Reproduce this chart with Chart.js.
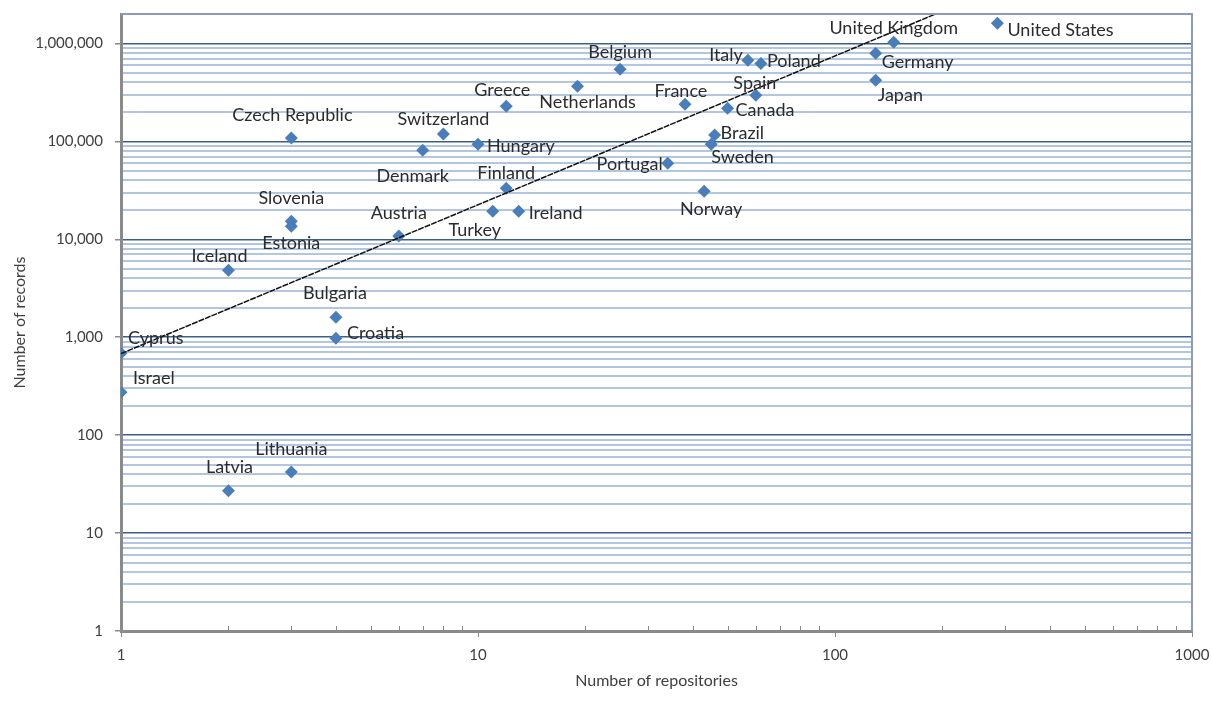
<!DOCTYPE html>
<html>
<head>
<meta charset="utf-8">
<script src="https://cdn.jsdelivr.net/npm/chart.js@4.4.1/dist/chart.umd.min.js"></script>
<style>
  html, body { margin: 0; padding: 0; background: #fff; }
</style>
</head>
<body>
<canvas id="repoChart" width="1212" height="702"></canvas>
<script>
// data
const countries = [
  'United States', 'United Kingdom', 'Germany', 'Japan', 'Italy', 'Poland', 'Spain',
  'Canada', 'France', 'Brazil', 'Sweden', 'Portugal', 'Norway', 'Belgium', 'Netherlands',
  'Greece', 'Switzerland', 'Hungary', 'Denmark', 'Finland', 'Turkey', 'Ireland', 'Austria',
  'Czech Republic', 'Slovenia', 'Estonia', 'Iceland', 'Bulgaria', 'Croatia', 'Cyprus',
  'Israel', 'Lithuania', 'Latvia'
];
const repositories = [
  285, 146, 130, 130, 57, 62, 60,
  50, 38, 46, 45, 34, 43, 25, 19,
  12, 8, 10, 7, 12, 11, 13, 6,
  3, 3, 3, 2, 4, 4, 1,
  1, 3, 2
];
const records = [
  1610000, 1030000, 796000, 422000, 675000, 625000, 296000,
  218000, 240000, 116000, 93600, 59800, 31000, 546000, 366000,
  229000, 119000, 93600, 81300, 33300, 19400, 19400, 10800,
  108000, 15300, 13600, 4830, 1600, 977, 687,
  274, 42, 27
];
// power trendline y = trendA * x ^ trendB
const trendA = 680;
const trendB = 1.52;

const xDecades = [1, 10, 100, 1000];
const yDecades = [1, 10, 100, 1000, 10000, 100000, 1000000];
const yAxisMax = 2000000;

// label placement next to each marker: [dx, dy, align]
const labelPlacement = [
  [10, 7, 'left'], [0, -14, 'center'], [6, 9, 'left'], [2, 15, 'left'], [-5, -5, 'right'],
  [6, -2, 'left'], [-1, -12, 'center'], [8, 2, 'left'], [-4, -13, 'center'], [6, -2, 'left'],
  [0, 13, 'left'], [-5, 1, 'right'], [7, 18, 'center'], [0, -17, 'center'], [10, 16, 'center'],
  [-4, -16, 'center'], [0, -15, 'center'], [9, 2, 'left'], [-10, 26, 'center'], [0, -15, 'center'],
  [-18, 19, 'center'], [10, 2, 'left'], [0, -23, 'center'], [1, -23, 'center'], [0, -23, 'center'],
  [0, 17, 'center'], [-9, -14, 'center'], [-1, -24, 'center'], [11, -5, 'left'], [7, -15, 'left'],
  [12, -14, 'left'], [0, -23, 'center'], [1, -24, 'center']
];

const FONT = 'Lato, "Open Sans", sans-serif';
const MAJOR_GRID = '#3d5f8f';
const MINOR_GRID = '#b3c6e1';
const AXIS_GRAY = '#8a8a8a';

function buildLogTicks(decades) {
  const ticks = [];
  const last = decades[decades.length - 1];
  decades.forEach(d => {
    for (let m = 1; m <= 9; m++) {
      const v = m * d;
      if (v > last) break;
      ticks.push({ value: v, major: m === 1 });
    }
  });
  return ticks;
}

const points = repositories.map((r, i) => ({ x: r, y: records[i] }));
const trendPoints = [xDecades[0], xDecades[xDecades.length - 1]].map(x => ({
  x: x, y: trendA * Math.pow(x, trendB)
}));

// names beside the markers
const pointLabels = {
  id: 'pointLabels',
  afterDatasetsDraw(chart) {
    const ctx = chart.ctx;
    const meta = chart.getDatasetMeta(0);
    ctx.save();
    ctx.font = '18px ' + FONT;
    ctx.fillStyle = '#2b2b2b';
    ctx.textBaseline = 'middle';
    meta.data.forEach((el, i) => {
      const p = labelPlacement[i];
      ctx.textAlign = p[2];
      ctx.fillText(countries[i], el.x + p[0], el.y + p[1]);
    });
    ctx.restore();
  }
};

// top/right frame and the small inner minor ticks on the x axis
const frame = {
  id: 'frame',
  afterDraw(chart) {
    const { ctx, chartArea: a } = chart;
    const xs = chart.scales.x;
    ctx.save();
    ctx.strokeStyle = '#8e9bb7';
    ctx.lineWidth = 2;
    ctx.beginPath();
    ctx.moveTo(a.left, a.top);
    ctx.lineTo(a.right, a.top);
    ctx.lineTo(a.right, a.bottom);
    ctx.stroke();
    ctx.strokeStyle = AXIS_GRAY;
    ctx.lineWidth = 1;
    ctx.beginPath();
    xs.ticks.forEach(t => {
      if (t.major) return;
      const px = Math.round(xs.getPixelForValue(t.value)) + 0.5;
      ctx.moveTo(px, a.bottom - 1);
      ctx.lineTo(px, a.bottom - 5);
    });
    ctx.stroke();
    ctx.restore();
  }
};

new Chart(document.getElementById('repoChart').getContext('2d'), {
  type: 'scatter',
  data: {
    datasets: [{
      label: 'Repositories',
      data: points,
      pointStyle: 'rectRot',
      pointRadius: 6.5,
      pointHoverRadius: 6.5,
      backgroundColor: '#4a7ebb',
      borderColor: '#4a7ebb',
      borderWidth: 0,
      order: 2
    }, {
      type: 'line',
      label: 'Power trend',
      data: trendPoints,
      borderColor: '#111',
      borderWidth: 1.5,
      borderDash: [6, 1],
      pointRadius: 0,
      fill: false,
      order: 1
    }]
  },
  options: {
    responsive: false,
    animation: false,
    layout: { padding: { top: 14, right: 20, left: 0, bottom: 0 } },
    plugins: {
      legend: { display: false },
      tooltip: { enabled: false }
    },
    scales: {
      x: {
        type: 'logarithmic',
        min: xDecades[0],
        max: xDecades[xDecades.length - 1],
        afterFit: s => { s.height = 71; s.paddingLeft = 0; s.paddingRight = 0; },
        afterBuildTicks: s => { s.ticks = buildLogTicks(xDecades); },
        border: { color: AXIS_GRAY, width: 3 },
        grid: {
          drawOnChartArea: false,
          drawTicks: true,
          tickLength: 6,
          tickWidth: 1,
          tickColor: c => (c.tick && c.tick.major ? AXIS_GRAY : 'rgba(0,0,0,0)')
        },
        ticks: {
          autoSkip: false,
          maxRotation: 0,
          padding: 9,
          color: '#404040',
          font: { family: FONT, size: 15 },
          callback: (v, i, ticks) => (ticks[i].major ? String(v) : '')
        },
        title: {
          display: true,
          text: 'Number of repositories',
          color: '#404040',
          font: { family: FONT, size: 16 },
          padding: { top: 0, bottom: 11.4 }
        }
      },
      y: {
        type: 'logarithmic',
        min: yDecades[0],
        max: yAxisMax,
        afterFit: s => { s.width = 121; s.paddingTop = 0; s.paddingBottom = 0; },
        afterBuildTicks: s => { s.ticks = buildLogTicks(yDecades); },
        border: { color: AXIS_GRAY, width: 3 },
        grid: {
          drawOnChartArea: true,
          drawTicks: true,
          tickLength: 6,
          color: c => (c.tick && c.tick.major ? MAJOR_GRID : MINOR_GRID),
          lineWidth: c => (c.tick && c.tick.major ? 1.5 : 2),
          tickColor: c => (c.tick && c.tick.major ? AXIS_GRAY : 'rgba(0,0,0,0)')
        },
        ticks: {
          autoSkip: false,
          padding: 12,
          color: '#404040',
          font: { family: FONT, size: 15 },
          callback: (v, i, ticks) => (ticks[i].major ? Number(v).toLocaleString('en-US') : '')
        },
        title: {
          display: true,
          text: 'Number of records',
          color: '#404040',
          font: { family: FONT, size: 16 },
          padding: { top: 10.4, bottom: 0 }
        }
      }
    }
  },
  plugins: [pointLabels, frame]
});
</script>
</body>
</html>
